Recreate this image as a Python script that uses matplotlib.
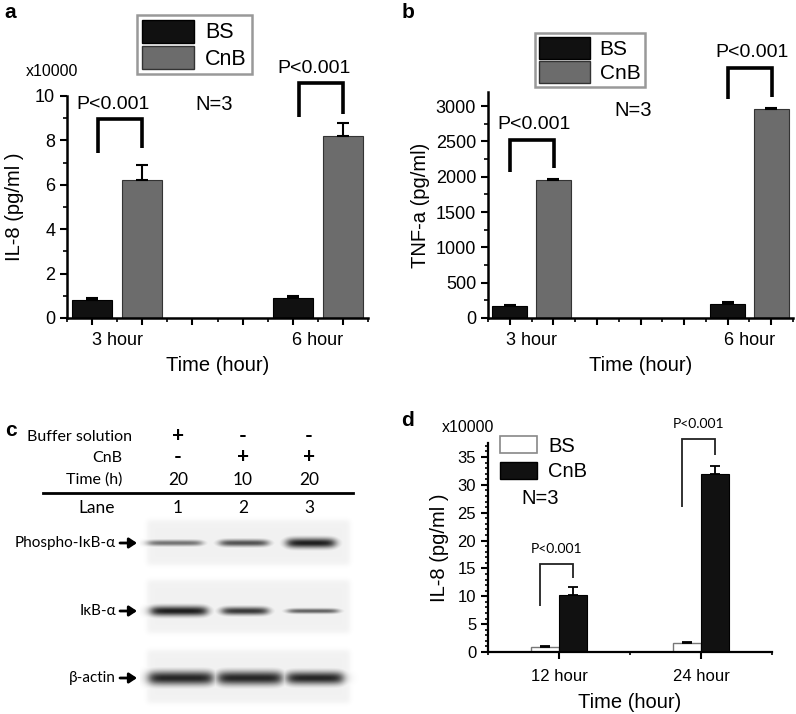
import numpy as np
import matplotlib
matplotlib.use('Agg')
import matplotlib.pyplot as plt
from matplotlib.patches import Patch

# ---------------- data ----------------
groups_ab = ['3 hour', '6 hour']
a_bs = [0.8, 0.9]
a_bs_err = [0.1, 0.1]
a_cnb = [6.2, 8.2]
a_cnb_err = [0.7, 0.6]

b_bs = [175, 205]
b_bs_err = [15, 15]
b_cnb = [1955, 2960]
b_cnb_err = [20, 20]

groups_d = ['12 hour', '24 hour']
d_bs = [0.9, 1.6]
d_bs_err = [0.2, 0.15]
d_cnb = [10.2, 32.0]
d_cnb_err = [1.4, 1.3]

series_names = ['BS', 'CnB']
p_label = 'P<0.001'
n_label = 'N=3'
# significance brackets per group: (top, left leg end, right leg end)
a_brackets = [(8.95, 7.45, 7.65), (10.6, 9.05, 9.2)]
b_brackets = [(2520, 2070, 2120), (3540, 3100, 3130)]
d_brackets = [(15.8, 8.3, 13.3), (38.2, 26.0, 35.4)]

# western blot (panel c)
blot_conditions = ['Buffer solution', 'CnB', 'Time (h)']
blot_values = [['+', '-', '-'], ['-', '+', '+'], ['20', '10', '20']]
lane_names = ['1', '2', '3']
blot_proteins = ['Phospho-IκB-α', 'IκB-α', 'β-actin']
band_intensity = [[0.55, 0.68, 0.88], [0.88, 0.78, 0.62], [0.85, 0.85, 0.85]]
band_thickness = [[6, 7, 10], [10, 8, 5], [14, 14, 13]]

# ---------------- figure ----------------
W, H = 796, 714
fig = plt.figure(figsize=(W / 100, H / 100), dpi=100)
plt.rcParams['font.family'] = ['Liberation Sans', 'DejaVu Sans']
CAL = ['Lato', 'DejaVu Sans']


def px_axes(x0, ytop, x1, ybot):
    return fig.add_axes([x0 / W, (H - ybot) / H, (x1 - x0) / W, (ybot - ytop) / H])


def ftext(x, y, s, **kw):
    return fig.text(x / W, 1 - y / H, s, **kw)


def style_axes(ax, lw=1.8, fs=13):
    for s in ['top', 'right']:
        ax.spines[s].set_visible(False)
    for s in ['left', 'bottom']:
        ax.spines[s].set_linewidth(lw)
    ax.tick_params(which='major', direction='out', length=5, width=1.5, labelsize=fs)
    ax.tick_params(which='minor', direction='out', length=3, width=1.2, labelsize=fs)


def bracket(ax, x1, x2, spec, lw, color='black'):
    top, l, r = spec
    ax.plot([x1, x1, x2, x2], [l, top, top, r], color=color, lw=lw,
            clip_on=False, solid_capstyle='butt', solid_joinstyle='miter')


def cat_labels(ticks, names):
    out = []
    for v in ticks:
        k = int(round(v))
        out.append(names[k] if abs(v - k) < 1e-6 and 0 <= k < len(names) else '')
    return out


GRAY = '#6c6c6c'
BLACK = '#111111'

# ---------------- panel a ----------------
axa = px_axes(67, 96, 368, 318)
x = np.arange(len(groups_ab))
off, w = 0.125, 0.2
ekw = dict(elinewidth=1.5, capthick=1.5, ecolor='black')
axa.bar(x - off, a_bs, w, color=BLACK, edgecolor='black', lw=0.8,
        yerr=[np.zeros(2), a_bs_err], capsize=4, error_kw=ekw)
axa.bar(x + off, a_cnb, w, color=GRAY, edgecolor='#333333', lw=0.8,
        yerr=[np.zeros(2), a_cnb_err], capsize=4, error_kw=ekw)
style_axes(axa)
axa.set_xlim(-0.25, 1.25)
axa.set_ylim(0, 10)
axa.set_yticks(np.arange(0, 11, 2))
axa.set_yticks(np.arange(1, 10, 2), minor=True)
axa.set_xticks(np.arange(-0.125, 1.25, 0.25))
axa.set_xticklabels([])
mt = np.arange(-0.25, 1.26, 0.25)
axa.set_xticks(mt, minor=True)
axa.set_xticklabels(cat_labels(mt, groups_ab), minor=True)
axa.tick_params(axis='x', which='minor', pad=7)
axa.set_xlabel('Time (hour)', fontsize=14.5, labelpad=5)
axa.set_ylabel('IL-8 (pg/ml )', fontsize=14.5, labelpad=8)
for i in range(2):
    bracket(axa, x[i] - off + 0.03, x[i] + off, a_brackets[i], lw=2.6)
    axa.text(x[i] - 0.02, a_brackets[i][0] + 0.65, p_label, ha='center', va='center',
             fontsize=14, clip_on=False)
axa.text(0.485, 9.6, n_label, ha='center', va='center', fontsize=14.5)
ftext(52, 72, 'x10000', ha='center', va='center', fontsize=11.5)
axa.legend(handles=[Patch(fc=BLACK, ec='black'), Patch(fc=GRAY, ec='#333333')],
           labels=series_names, loc='upper left', bbox_to_anchor=(137 / W, 1 - 15 / H),
           bbox_transform=fig.transFigure, fontsize=15.5, handlelength=2.45, handleheight=1.25,
           labelspacing=0.12, handletextpad=0.5, borderpad=0.22, borderaxespad=0,
           frameon=True, fancybox=False, edgecolor='#999999', framealpha=1)
axa.get_legend().get_frame().set_linewidth(1.8)
ftext(4, 12, 'a', fontsize=15, fontweight='bold', va='center', ha='left')

# ---------------- panel b ----------------
axb = px_axes(488, 92, 793, 318)
offb, wb = 0.1, 0.16
axb.bar(x - offb, b_bs, wb, color=BLACK, edgecolor='black', lw=0.8,
        yerr=[np.zeros(2), b_bs_err], capsize=4, error_kw=ekw)
axb.bar(x + offb, b_cnb, wb, color=GRAY, edgecolor='#333333', lw=0.8,
        yerr=[np.zeros(2), b_cnb_err], capsize=4, error_kw=ekw)
style_axes(axb)
axb.set_xlim(-0.2, 1.2)
axb.set_ylim(0, 3200)
axb.set_yticks(np.arange(0, 3001, 500))
axb.set_yticks(np.arange(250, 3200, 500), minor=True)
axb.set_xticks(np.arange(-0.1, 1.2, 0.2))
axb.set_xticklabels([])
mtb = np.arange(-0.2, 1.21, 0.2)
axb.set_xticks(mtb, minor=True)
axb.set_xticklabels(cat_labels(mtb, groups_ab), minor=True)
axb.tick_params(axis='x', which='minor', pad=7)
axb.set_xlabel('Time (hour)', fontsize=14.5, labelpad=5)
axb.set_ylabel('TNF-a (pg/ml)', fontsize=14.5, labelpad=4)
for i in range(2):
    bracket(axb, x[i] - offb, x[i] + offb + 0.005, b_brackets[i], lw=2.6)
    axb.text(x[i] + 0.01, b_brackets[i][0] + 215, p_label, ha='center', va='center',
             fontsize=14, clip_on=False)
axb.text(0.465, 2940, n_label, ha='center', va='center', fontsize=14.5)
axb.legend(handles=[Patch(fc=BLACK, ec='black'), Patch(fc=GRAY, ec='#333333')],
           labels=series_names, loc='upper left', bbox_to_anchor=(535 / W, 1 - 33 / H),
           bbox_transform=fig.transFigure, fontsize=15, handlelength=2.45, handleheight=1.2,
           labelspacing=0.12, handletextpad=0.45, borderpad=0.2, borderaxespad=0,
           frameon=True, fancybox=False, edgecolor='#999999', framealpha=1)
axb.get_legend().get_frame().set_linewidth(1.8)
ftext(402, 12, 'b', fontsize=15, fontweight='bold', va='center', ha='left')

# ---------------- panel d ----------------
axd = px_axes(488, 443, 772, 652)
offd, wd = 0.1, 0.2
ekd = dict(elinewidth=1.3, capthick=1.3, ecolor='black')
axd.bar(x - offd, d_bs, wd, color='white', edgecolor='#777777', lw=1.0,
        yerr=[np.zeros(2), d_bs_err], capsize=3.5, error_kw=ekd)
axd.bar(x + offd, d_cnb, wd, color=BLACK, edgecolor='black', lw=0.8,
        yerr=[np.zeros(2), d_cnb_err], capsize=3.5, error_kw=ekd)
style_axes(axd, lw=1.6, fs=12)
axd.set_xlim(-0.5, 1.5)
axd.set_ylim(0, 37.5)
axd.set_yticks(np.arange(0, 36, 5))
axd.set_yticks([v for v in range(1, 38) if v % 5], minor=True)
axd.tick_params(which='minor', length=2.5)
axd.set_xticks([0, 1])
axd.set_xticklabels(groups_d)
axd.set_xticks([-0.5, 0.5, 1.5], minor=True)
axd.tick_params(axis='x', which='major', pad=7)
axd.set_xlabel('Time (hour)', fontsize=14.5, labelpad=7)
axd.set_ylabel('IL-8 (pg/ml )', fontsize=14.5, labelpad=6)
for i in range(2):
    bracket(axd, x[i] - 0.135, x[i] + offd, d_brackets[i], lw=1.3, color='#222222')
    axd.text(x[i] - 0.02, d_brackets[i][0] + 2.7, p_label, ha='center', va='center',
             fontsize=10, family=CAL, clip_on=False)
axd.text(-0.13, 27.6, n_label, ha='center', va='center', fontsize=14.5)
ftext(468, 428, 'x10000', ha='center', va='center', fontsize=11.5)
axd.legend(handles=[Patch(fc='white', ec='#888888', lw=1.2), Patch(fc=BLACK, ec='black')],
           labels=series_names, loc='upper left', bbox_to_anchor=(498 / W, 1 - 434 / H),
           bbox_transform=fig.transFigure, fontsize=14.5, handlelength=1.85, handleheight=0.95,
           labelspacing=0.3, handletextpad=0.55, borderpad=0.1, borderaxespad=0,
           frameon=False)
ftext(401, 421, 'd', fontsize=15, fontweight='bold', va='center', ha='left')

# ---------------- panel c (western blot) ----------------
axc = fig.add_axes([0, 0, 400 / W, 354 / H])
axc.set_xlim(0, 400)
axc.set_ylim(714, 360)
axc.axis('off')
lane_x = [178, 243, 309]
row_y = [437, 458, 480]
label_right = [132, 122, 122]
for r in range(3):
    axc.text(label_right[r], row_y[r], blot_conditions[r], ha='right', va='center',
             fontsize=11.5, family=CAL)
    for l in range(3):
        v = blot_values[r][l]
        if v in '+-':
            axc.text(lane_x[l], row_y[r] - 1, v, ha='center', va='center', fontsize=15,
                     fontweight='bold', family=CAL)
        else:
            axc.text(lane_x[l], row_y[r], v, ha='center', va='center', fontsize=12.5, family=CAL)
axc.plot([43, 353], [493, 493], color='black', lw=2)
axc.text(97, 508, 'Lane', ha='center', va='center', fontsize=12.5, family=CAL)
for l in range(3):
    axc.text(lane_x[l], 508, lane_names[l], ha='center', va='center', fontsize=12.5, family=CAL)

# blot image (restricted to the blot region)
X0, X1, Y0, Y1 = 140, 360, 514, 710
strip_y = [(520, 565), (580, 633), (650, 703)]
band_y = [543, 611, 678]
band_x = [[175, 244, 311], [179, 245, 313], [181, 250, 315]]
band_hw = [[27, 24, 24], [28, 23, 25], [32, 32, 28]]
yy, xx = np.mgrid[Y0:Y1, X0:X1] + 0.5
img = np.zeros_like(xx, dtype=float)


def smooth_box(v, a, b, s):
    return 1 / (1 + np.exp((a - v) / s)) * 1 / (1 + np.exp((v - b) / s))


for (y0, y1) in strip_y:
    img = np.maximum(img, 0.055 * smooth_box(xx, 147, 350, 1.5) * smooth_box(yy, y0, y1, 1.5))
for r in range(3):
    for l in range(3):
        xc, yc = band_x[r][l], band_y[r]
        hw = band_hw[r][l]
        ht = band_thickness[r][l] / 2
        fx = 1 / (1 + np.exp((np.abs(xx - xc) - hw) / 3.0))
        fy = np.exp(-((yy - yc) / ht) ** 2)
        img = np.maximum(img, band_intensity[r][l] * fx * fy)
axc.imshow(img, cmap='gray_r', vmin=0, vmax=1, extent=(X0, X1, Y1, Y0),
           interpolation='bilinear', aspect='auto', zorder=0)
axc.set_xlim(0, 400)
axc.set_ylim(714, 360)
for r in range(3):
    axc.text(116, band_y[r], blot_proteins[r], ha='right', va='center',
             fontsize=11, family=CAL)
    axc.annotate('', xy=(137, band_y[r]), xytext=(120, band_y[r]),
                 arrowprops=dict(arrowstyle='-|>,head_length=0.45,head_width=0.3', lw=2,
                                 color='black', shrinkA=0, shrinkB=0))
ftext(5, 430, 'c', fontsize=15, fontweight='bold', va='center', ha='left')

fig.savefig('out.png', dpi=100)
